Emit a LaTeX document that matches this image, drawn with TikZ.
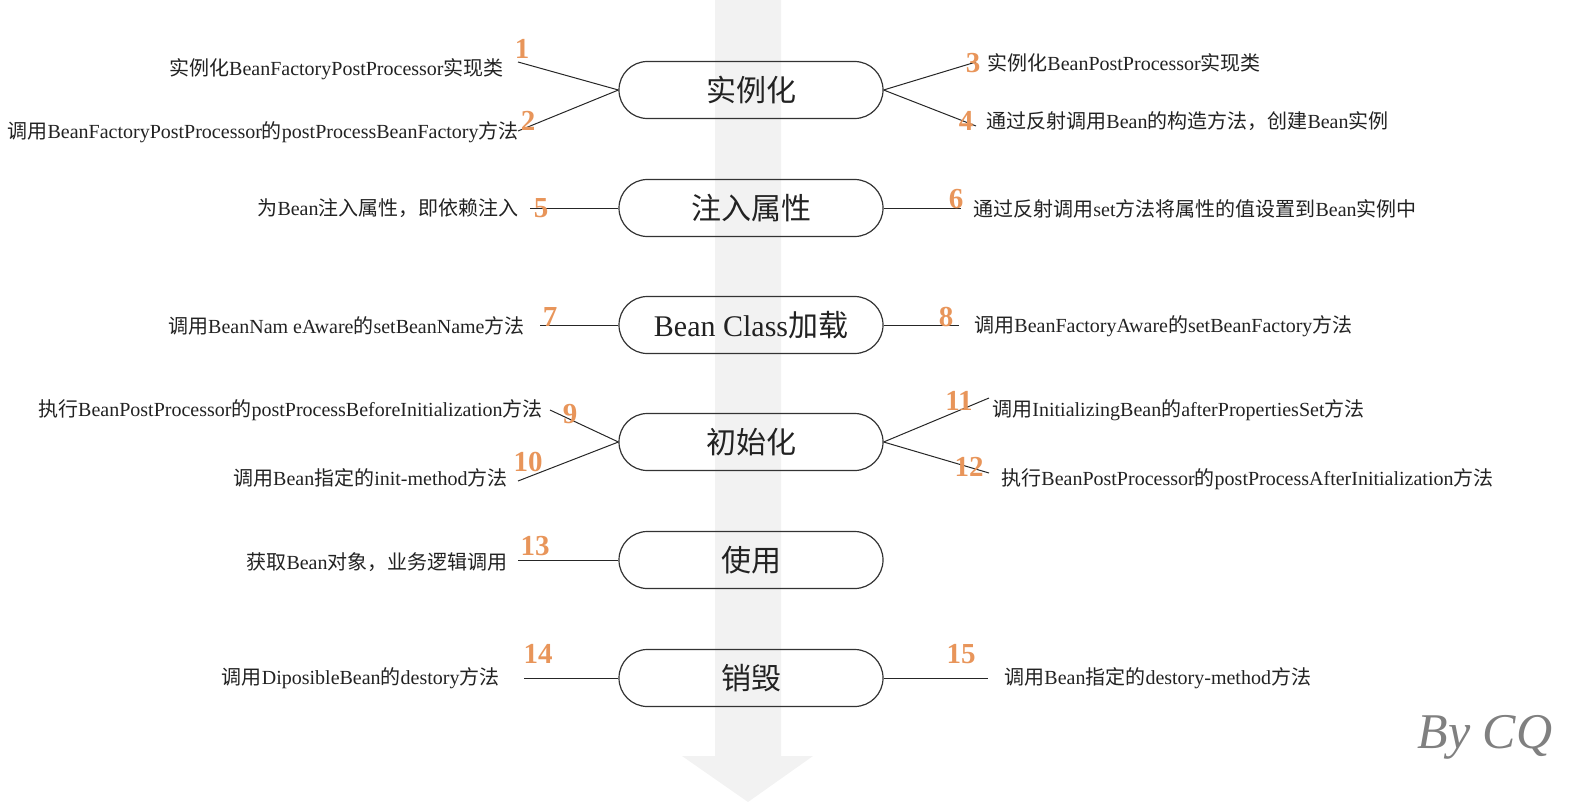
\documentclass[tikz,border=0pt]{standalone}
\usepackage{fontspec}
\setmainfont{Liberation Serif}
\newfontfamily\cjk{Noto Sans CJK SC}
\newcommand\zhs[1]{{\cjk #1}}
\definecolor{numor}{HTML}{E8955A}
\definecolor{arrowgray}{HTML}{F2F2F2}
\definecolor{txt}{HTML}{222222}
\begin{document}
\begin{tikzpicture}[x=0.5pt,y=-0.5pt,
  stage/.style={draw=black!80,line width=0.6pt,rounded corners=14.2pt,minimum width=132pt,minimum height=28.5pt,inner sep=0pt,font=\fontsize{15pt}{17pt}\selectfont,text=txt},
  ltxt/.style={anchor=east,inner sep=0pt,font=\fontsize{10pt}{12pt}\selectfont,text=txt},
  rtxt/.style={anchor=west,inner sep=0pt,font=\fontsize{10pt}{12pt}\selectfont,text=txt},
  num/.style={inner sep=0pt,text=numor,font=\fontsize{14.5pt}{16pt}\selectfont\bfseries},
  conn/.style={draw=black!85,line width=0.5pt}]
\useasboundingbox (0,0) rectangle (1578,803);
% background arrow
\fill[arrowgray] (715,0) -- (781,0) -- (781,756) -- (813,756) -- (748,802) -- (682,756) -- (715,756) -- cycle;
% stages
\node[stage] (b1) at (751,90) {\zhs{实例化}};
\node[stage] (b2) at (751,208) {\zhs{注入属性}};
\node[stage] (b3) at (751,325) {Bean Class\zhs{加载}};
\node[stage] (b4) at (751,442) {\zhs{初始化}};
\node[stage] (b5) at (751,560) {\zhs{使用}};
\node[stage] (b6) at (751,678) {\zhs{销毁}};
% free ends
\coordinate (c1) at (518,62);
\coordinate (c2) at (518,131);
\coordinate (c3) at (976,62);
\coordinate (c4) at (976,126);
\coordinate (c5) at (530,208);
\coordinate (c6) at (961,208);
\coordinate (c7) at (540,325);
\coordinate (c8) at (959,325);
\coordinate (c9) at (550,410);
\coordinate (c10) at (518,481);
\coordinate (c11) at (989,398);
\coordinate (c12) at (989,473);
\coordinate (c13) at (518,560);
\coordinate (c14) at (524,678);
\coordinate (c15) at (988,678);
% connectors
\draw[conn] (c1) -- (b1.west);
\draw[conn] (c2) -- (b1.west);
\draw[conn] (b1.east) -- (c3);
\draw[conn] (b1.east) -- (c4);
\draw[conn] (c5) -- (b2.west);
\draw[conn] (b2.east) -- (c6);
\draw[conn] (c7) -- (b3.west);
\draw[conn] (b3.east) -- (c8);
\draw[conn] (c9) -- (b4.west);
\draw[conn] (c10) -- (b4.west);
\draw[conn] (b4.east) -- (c11);
\draw[conn] (b4.east) -- (c12);
\draw[conn] (c13) -- (b5.west);
\draw[conn] (c14) -- (b6.west);
\draw[conn] (b6.east) -- (c15);
% texts
\node[ltxt] (t1) at (504,69) {\zhs{实例化}BeanFactoryPostProcessor\zhs{实现类}};
\node[ltxt] (t2) at (519,132) {\zhs{调用}BeanFactoryPostProcessor\zhs{的}postProcessBeanFactory\zhs{方法}};
\node[rtxt] (t3) at (987,63) {\zhs{实例化}BeanPostProcessor\zhs{实现类}};
\node[rtxt] (t4) at (986,121) {\zhs{通过反射调用}Bean\zhs{的构造方法，创建}Bean\zhs{实例}};
\node[ltxt] (t5) at (519,208) {\zhs{为}Bean\zhs{注入属性，即依赖注入}};
\node[rtxt] (t6) at (973,209) {\zhs{通过反射调用}set\zhs{方法将属性的值设置到}Bean\zhs{实例中}};
\node[ltxt] (t7) at (525,326) {\zhs{调用}BeanNam eAware\zhs{的}setBeanName\zhs{方法}};
\node[rtxt] (t8) at (974,326) {\zhs{调用}BeanFactoryAware\zhs{的}setBeanFactory\zhs{方法}};
\node[ltxt] (t9) at (543,410) {\zhs{执行}BeanPostProcessor\zhs{的}postProcessBeforeInitialization\zhs{方法}};
\node[ltxt] (t10) at (508,478) {\zhs{调用}Bean\zhs{指定的}init-method\zhs{方法}};
\node[rtxt] (t11) at (992,410) {\zhs{调用}InitializingBean\zhs{的}afterPropertiesSet\zhs{方法}};
\node[rtxt] (t12) at (1001,479) {\zhs{执行}BeanPostProcessor\zhs{的}postProcessAfterInitialization\zhs{方法}};
\node[ltxt] (t13) at (508,562) {\zhs{获取}Bean\zhs{对象，业务逻辑调用}};
\node[ltxt] (t14) at (500,678) {\zhs{调用}DiposibleBean\zhs{的}destory\zhs{方法}};
\node[rtxt] (t15) at (1004,678) {\zhs{调用}Bean\zhs{指定的}destory-method\zhs{方法}};
% numbers
\node[num] (n1) at (522,49) {1};
\node[num] (n2) at (528,121) {2};
\node[num] (n3) at (973,63) {3};
\node[num] (n4) at (966,121) {4};
\node[num] (n5) at (541,208) {5};
\node[num] (n6) at (956,199) {6};
\node[num] (n7) at (550,317) {7};
\node[num] (n8) at (946,317) {8};
\node[num] (n9) at (570,414) {9};
\node[num] (n10) at (528,462) {10};
\node[num] (n11) at (959,401) {11};
\node[num] (n12) at (969,467) {12};
\node[num] (n13) at (535,546) {13};
\node[num] (n14) at (538,654) {14};
\node[num] (n15) at (961,654) {15};
% signature
\node[inner sep=0pt,text=black!50,font=\fontsize{25pt}{28pt}\selectfont\itshape] (sig) at (1485,737) {By CQ};
\end{tikzpicture}
\end{document}
